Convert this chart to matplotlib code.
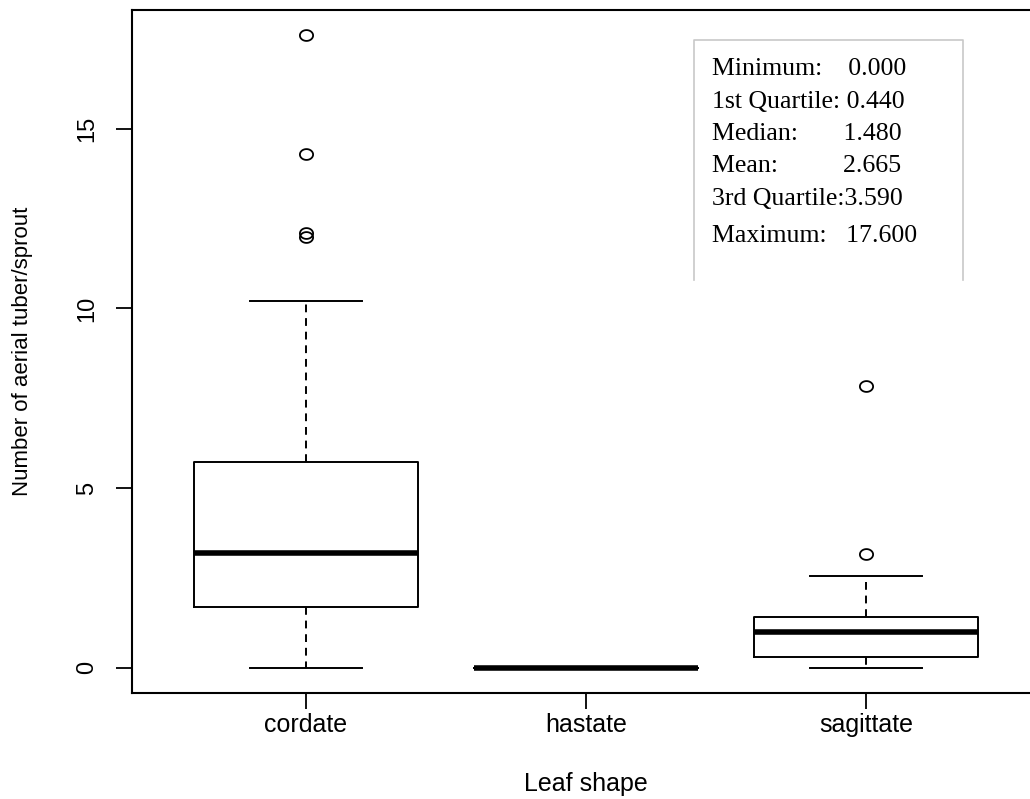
import matplotlib
matplotlib.use("Agg")
import numpy as np
import matplotlib.pyplot as plt
from matplotlib.lines import Line2D
from matplotlib.path import Path

# Leaf-shape groups and their box statistics (aerial tubers per sprout)
categories = ["cordate", "hastate", "sagittate"]
q1 = [1.70, 0.0, 0.29]
medians = [3.19, 0.0, 0.99]
q3 = [5.72, 0.0, 1.40]
whisker_low = [0.0, 0.0, 0.0]
whisker_high = [10.2, 0.0, 2.56]
outliers = [[17.6, 14.3, 12.1, 12.0], [], [7.83, 3.16]]

# Overall summary printed in the inset
summary_labels = ["Minimum:    ", "1st Quartile: ", "Median:       ", "Mean:          ",
                  "3rd Quartile:", "Maximum:   "]
summary_values = ["0.000", "0.440", "1.480", "2.665", "3.590", "17.600"]

W, H = 1030, 799
fig = plt.figure(figsize=(W / 100, H / 100), dpi=100)
ax = fig.add_axes([132 / W, 1 - 693 / H, 908 / W, 683 / H])

stats = []
for i, name in enumerate(categories):
    stats.append(dict(label=name, q1=q1[i], med=medians[i], q3=q3[i],
                      whislo=whisker_low[i], whishi=whisker_high[i],
                      fliers=outliers[i]))

# slightly flattened open circle for outlying points
theta = np.linspace(0, 2 * np.pi, 60)
flat_circle = Path(np.column_stack([np.cos(theta), 0.82 * np.sin(theta)]), closed=True)

lw = 1.4
ax.bxp(stats, positions=[1, 2, 3], widths=0.8, showfliers=True,
       boxprops=dict(color="black", linewidth=lw),
       whiskerprops=dict(color="black", linewidth=lw, linestyle=(0, (4, 3))),
       capprops=dict(color="black", linewidth=lw),
       capwidths=0.4,
       medianprops=dict(color="black", linewidth=4.0, solid_capstyle="butt"),
       flierprops=dict(marker=flat_circle, markerfacecolor="none", markeredgecolor="black",
                       markersize=9.5, markeredgewidth=1.3, linestyle="none"))

ax.set_xlim(0.38, 3.62)
ax.set_ylim(-0.704, 18.304)

ax.set_xticks([1, 2, 3])
ax.set_xticklabels(categories, fontsize=18, family="Liberation Sans")
ax.set_yticks([0, 5, 10, 15])
ax.set_yticklabels(["0", "5", "10", "15"], fontsize=17, family="Liberation Sans",
                   rotation=90, va="center")
ax.tick_params(axis="both", direction="out", length=11.5, width=1.3, color="black")
ax.tick_params(axis="x", pad=3)
ax.tick_params(axis="y", pad=13)

for side in ["left", "bottom", "top"]:
    ax.spines[side].set_linewidth(1.5)
    ax.spines[side].set_color("black")
ax.spines["right"].set_visible(False)

ax.set_xlabel("Leaf shape", fontsize=18, family="Liberation Sans", labelpad=25)
ax.set_ylabel("Number of aerial tuber/sprout", fontsize=16, family="Liberation Sans",
              labelpad=31)

# Inset frame (open at the bottom) with the summary lines
frame_x = [694 / W, 694 / W, 963 / W, 963 / W]
frame_y = [1 - 280 / H, 1 - 40 / H, 1 - 40 / H, 1 - 280 / H]
fig.add_artist(Line2D(frame_x, frame_y, color="#c8c8c8", linewidth=1.2,
                      transform=fig.transFigure))

line_y = [69, 102, 134, 166, 199, 236]
for lab, val, y in zip(summary_labels, summary_values, line_y):
    fig.text(712 / W, 1 - y / H, lab + val, fontsize=18.6, family="Liberation Serif",
             va="center", ha="left", color="black")

fig.savefig("out.png", dpi=100)
